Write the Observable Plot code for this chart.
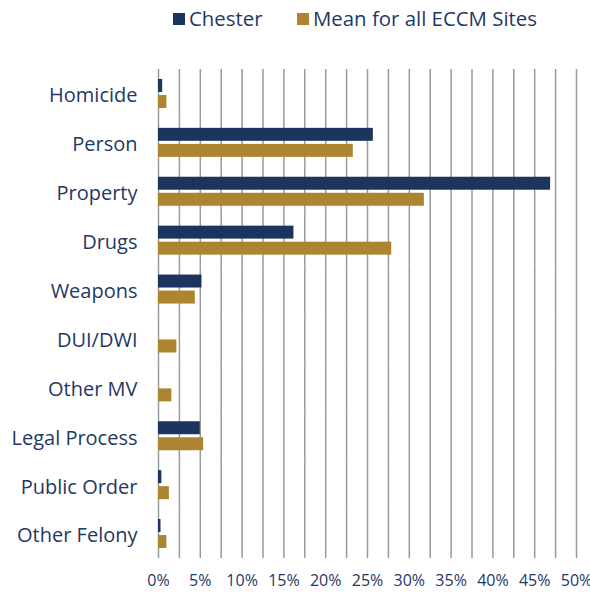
<!DOCTYPE html>
<html>
<head>
<meta charset="utf-8">
<script src="https://cdn.jsdelivr.net/npm/d3@7"></script>
<script src="https://cdn.jsdelivr.net/npm/@observablehq/plot@0.6"></script>
<style>
  body { margin: 0; background: #fff; font-family: "Open Sans", sans-serif; color: #1f3864; }
  #wrap { width: 590px; }
  #legend { position: relative; height: 36px; font-size: 20.4px; }
  .sw { position: absolute; width: 12px; height: 12px; top: 13px; }
  .lt { position: absolute; top: 4px; line-height: 28px; white-space: nowrap; }
  #chart svg { display: block; }
</style>
</head>
<body>
<div id="wrap">
  <div id="legend"></div>
  <div id="chart"></div>
</div>
<script>
const categories = ["Homicide", "Person", "Property", "Drugs", "Weapons", "DUI/DWI", "Other MV", "Legal Process", "Public Order", "Other Felony"];
const seriesNames = ["Chester", "Mean for all ECCM Sites"];
const chester = [0.5, 25.7, 46.9, 16.2, 5.2, 0, 0, 5.0, 0.4, 0.3];
const meanAll = [1.0, 23.3, 31.8, 27.9, 4.4, 2.2, 1.6, 5.4, 1.3, 1.0];
const xTicks = [0, 5, 10, 15, 20, 25, 30, 35, 40, 45, 50];
const gridTicks = [0, 2.5, 5, 7.5, 10, 12.5, 15, 17.5, 20, 22.5, 25, 27.5, 30, 32.5, 35, 37.5, 40, 42.5, 45, 47.5, 50];
const colors = ["#1b355e", "#ad842f"];

const data = categories.flatMap((c, i) => [
  {category: c, series: seriesNames[0], value: chester[i]},
  {category: c, series: seriesNames[1], value: meanAll[i]}
]);

// legend
const legend = document.getElementById("legend");
const legendPos = [{sw: 173, tx: 189}, {sw: 297, tx: 313}];
seriesNames.forEach((s, i) => {
  const sw = document.createElement("div");
  sw.className = "sw";
  sw.style.left = legendPos[i].sw + "px";
  sw.style.background = colors[i];
  legend.appendChild(sw);
  const t = document.createElement("div");
  t.className = "lt";
  t.style.left = legendPos[i].tx + "px";
  t.textContent = s;
  legend.appendChild(t);
});

const chart = Plot.plot({
  width: 590,
  height: 556,
  marginLeft: 158,
  marginRight: 14,
  marginTop: 33,
  marginBottom: 34,
  style: {fontFamily: "Open Sans, sans-serif", fontSize: "18px", color: "#1f3864", background: "#fff"},
  x: {domain: [0, 50]},
  y: {domain: seriesNames, axis: null, paddingInner: 0.19, paddingOuter: 0.62, round: false},
  fy: {domain: categories, paddingInner: 0, paddingOuter: 0, round: false, label: null, axis: null},
  color: {domain: seriesNames, range: colors},
  marks: [
    Plot.gridX(gridTicks, {stroke: "#9a9a9a", strokeOpacity: 1, strokeWidth: 1.5}),
    Plot.barX(data, {fy: "category", y: "series", x: "value", fill: "series"}),
    Plot.axisX(xTicks, {tickSize: 0, tickPadding: 16, tickFormat: d => d + "%", label: null, fontSize: 16}),
    Plot.axisFy({anchor: "left", tickSize: 0, tickPadding: 21, dy: 2, label: null, fontSize: 20})
  ]
});
document.getElementById("chart").appendChild(chart);
</script>
</body>
</html>
